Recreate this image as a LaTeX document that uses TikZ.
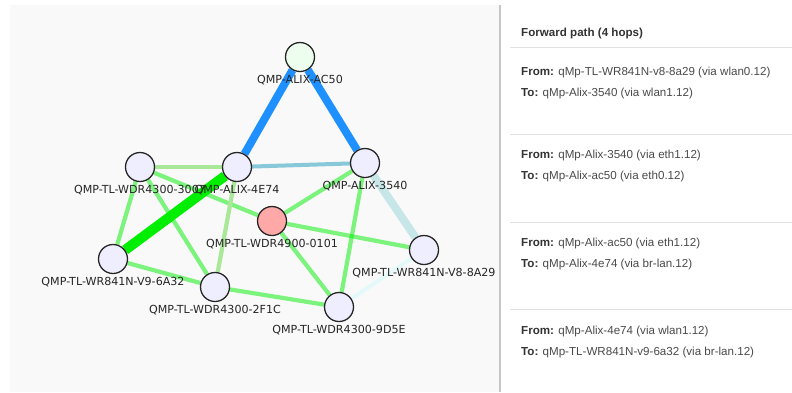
\documentclass[tikz,border=0pt]{standalone}
\usepackage{fontspec}
\setmainfont{Liberation Sans}
\newfontfamily\graphfont{DejaVu Sans}

\definecolor{panelbg}{HTML}{F9F9F9}
\definecolor{divider}{HTML}{C6C6C6}
\definecolor{rule}{HTML}{E2E2E2}
\definecolor{hostfill}{HTML}{EEEEFE}
\definecolor{gwfill}{HTML}{EEFEEE}
\definecolor{badfill}{HTML}{FFA8A8}
\definecolor{linkgreen}{HTML}{00EE00}
\definecolor{palegreen}{HTML}{A8E898}
\definecolor{pathblue}{HTML}{1E90FF}
\definecolor{teal}{HTML}{88C8D8}
\definecolor{paleteal}{HTML}{C6E6E8}
\definecolor{faintteal}{HTML}{E4FAFA}
\definecolor{ink}{HTML}{333333}
\definecolor{softink}{HTML}{4A4A4A}

\pgfdeclarelayer{background}
\pgfdeclarelayer{links}
\pgfsetlayers{background,links,main}

\begin{document}
\begin{tikzpicture}[x=1pt,y=-1pt,
  host/.style={circle, draw=black!85, line width=1.3pt, minimum size=29pt,
    inner sep=0pt, fill=hostfill},
  hostname/.style={font=\graphfont\fontsize{11.1}{12}\selectfont, text=black!85,
    anchor=base, inner sep=0pt},
  link/.style={line width=4.2pt, draw=linkgreen, draw opacity=0.5},
  palelink/.style={line width=4.2pt, draw=palegreen},
  pathlink/.style={line width=8pt, draw=pathblue},
  hoptext/.style={font=\fontsize{11.6}{14}\selectfont, text=softink, anchor=west, inner sep=0pt},
  hophead/.style={font=\bfseries\fontsize{11.6}{14}\selectfont, text=ink, anchor=west, inner sep=0pt},
  sep/.style={draw=rule, line width=1pt}]
\useasboundingbox (0,0) rectangle (792,392);

% graph panel and divider
\begin{pgfonlayer}{background}
  \fill[white] (0,0) rectangle (792,392);
  \fill[panelbg] (10,5) rectangle (499,392);
  \draw[divider, line width=2pt] (500,5) -- (500,392);
\end{pgfonlayer}

% hosts
\node[host, fill=gwfill] (AC50) at (300,57) {};
\node[host] (W3007) at (140,167) {};
\node[host] (A4E74) at (237,167) {};
\node[host] (A3540) at (365,163) {};
\node[host, fill=badfill] (W0101) at (272,221) {};
\node[host] (V8A29) at (424,250) {};
\node[host] (V6A32) at (113,259) {};
\node[host] (W2F1C) at (215,287) {};
\node[host] (W9D5E) at (339,307) {};

% links
\begin{pgfonlayer}{links}
  \draw[link] (W3007) -- (V6A32);
  \draw[link] (W3007) -- (W2F1C);
  \draw[link] (W3007) -- (W0101);
  \draw[link] (V6A32) -- (W2F1C);
  \draw[link] (W2F1C) -- (W9D5E);
  \draw[link] (A3540) -- (W0101);
  \draw[link] (A3540) -- (W9D5E);
  \draw[link] (W0101) -- (V8A29);
  \draw[link] (W0101) -- (W9D5E);
  \draw[palelink] (W3007) -- (A4E74);
  \draw[palelink] (A4E74) -- (W2F1C);
  \draw[line width=4pt, draw=faintteal] (V8A29) -- (W9D5E);
  \draw[line width=8pt, draw=paleteal] (A3540) -- (V8A29);
  \draw[line width=4pt, draw=teal] (A4E74) -- (A3540);
  \draw[line width=10pt, draw=linkgreen] (A4E74) -- (V6A32);
  \draw[pathlink] (AC50) -- (A4E74);
  \draw[pathlink] (AC50) -- (A3540);
\end{pgfonlayer}

% host names
\node[hostname] (tAC50) at ([yshift=-26pt]AC50.center) {QMP-ALIX-AC50};
\node[hostname] (t3007) at ([yshift=-26pt]W3007.center) {QMP-TL-WDR4300-3007};
\node[hostname] (t4E74) at ([yshift=-26pt]A4E74.center) {QMP-ALIX-4E74};
\node[hostname] (t3540) at ([yshift=-26pt]A3540.center) {QMP-ALIX-3540};
\node[hostname] (t0101) at ([yshift=-26pt]W0101.center) {QMP-TL-WDR4900-0101};
\node[hostname] (t8A29) at ([yshift=-26pt]V8A29.center) {QMP-TL-WR841N-V8-8A29};
\node[hostname] (t6A32) at ([yshift=-26pt]V6A32.center) {QMP-TL-WR841N-V9-6A32};
\node[hostname] (t2F1C) at ([yshift=-26pt]W2F1C.center) {QMP-TL-WDR4300-2F1C};
\node[hostname] (t9D5E) at ([yshift=-26pt]W9D5E.center) {QMP-TL-WDR4300-9D5E};

% forward path listing
\node[hophead] (head) at (521,33) {Forward path (4 hops)};
\draw[sep] (510,47) -- (792,47);
\node[hoptext] (f1) at (521,72) {\textbf{\color{ink}From:} qMp-TL-WR841N-v8-8a29 (via wlan0.12)};
\node[hoptext] (t1) at (521,93) {\textbf{\color{ink}To:} qMp-Alix-3540 (via wlan1.12)};
\draw[sep] (510,134) -- (792,134);
\node[hoptext] (f2) at (521,155) {\textbf{\color{ink}From:} qMp-Alix-3540 (via eth1.12)};
\node[hoptext] (t2) at (521,176) {\textbf{\color{ink}To:} qMp-Alix-ac50 (via eth0.12)};
\draw[sep] (510,222) -- (792,222);
\node[hoptext] (f3) at (521,243) {\textbf{\color{ink}From:} qMp-Alix-ac50 (via eth1.12)};
\node[hoptext] (t3) at (521,264) {\textbf{\color{ink}To:} qMp-Alix-4e74 (via br-lan.12)};
\draw[sep] (510,309) -- (792,309);
\node[hoptext] (f4) at (521,331) {\textbf{\color{ink}From:} qMp-Alix-4e74 (via wlan1.12)};
\node[hoptext] (t4) at (521,352) {\textbf{\color{ink}To:} qMp-TL-WR841N-v9-6a32 (via br-lan.12)};
\end{tikzpicture}
\end{document}
